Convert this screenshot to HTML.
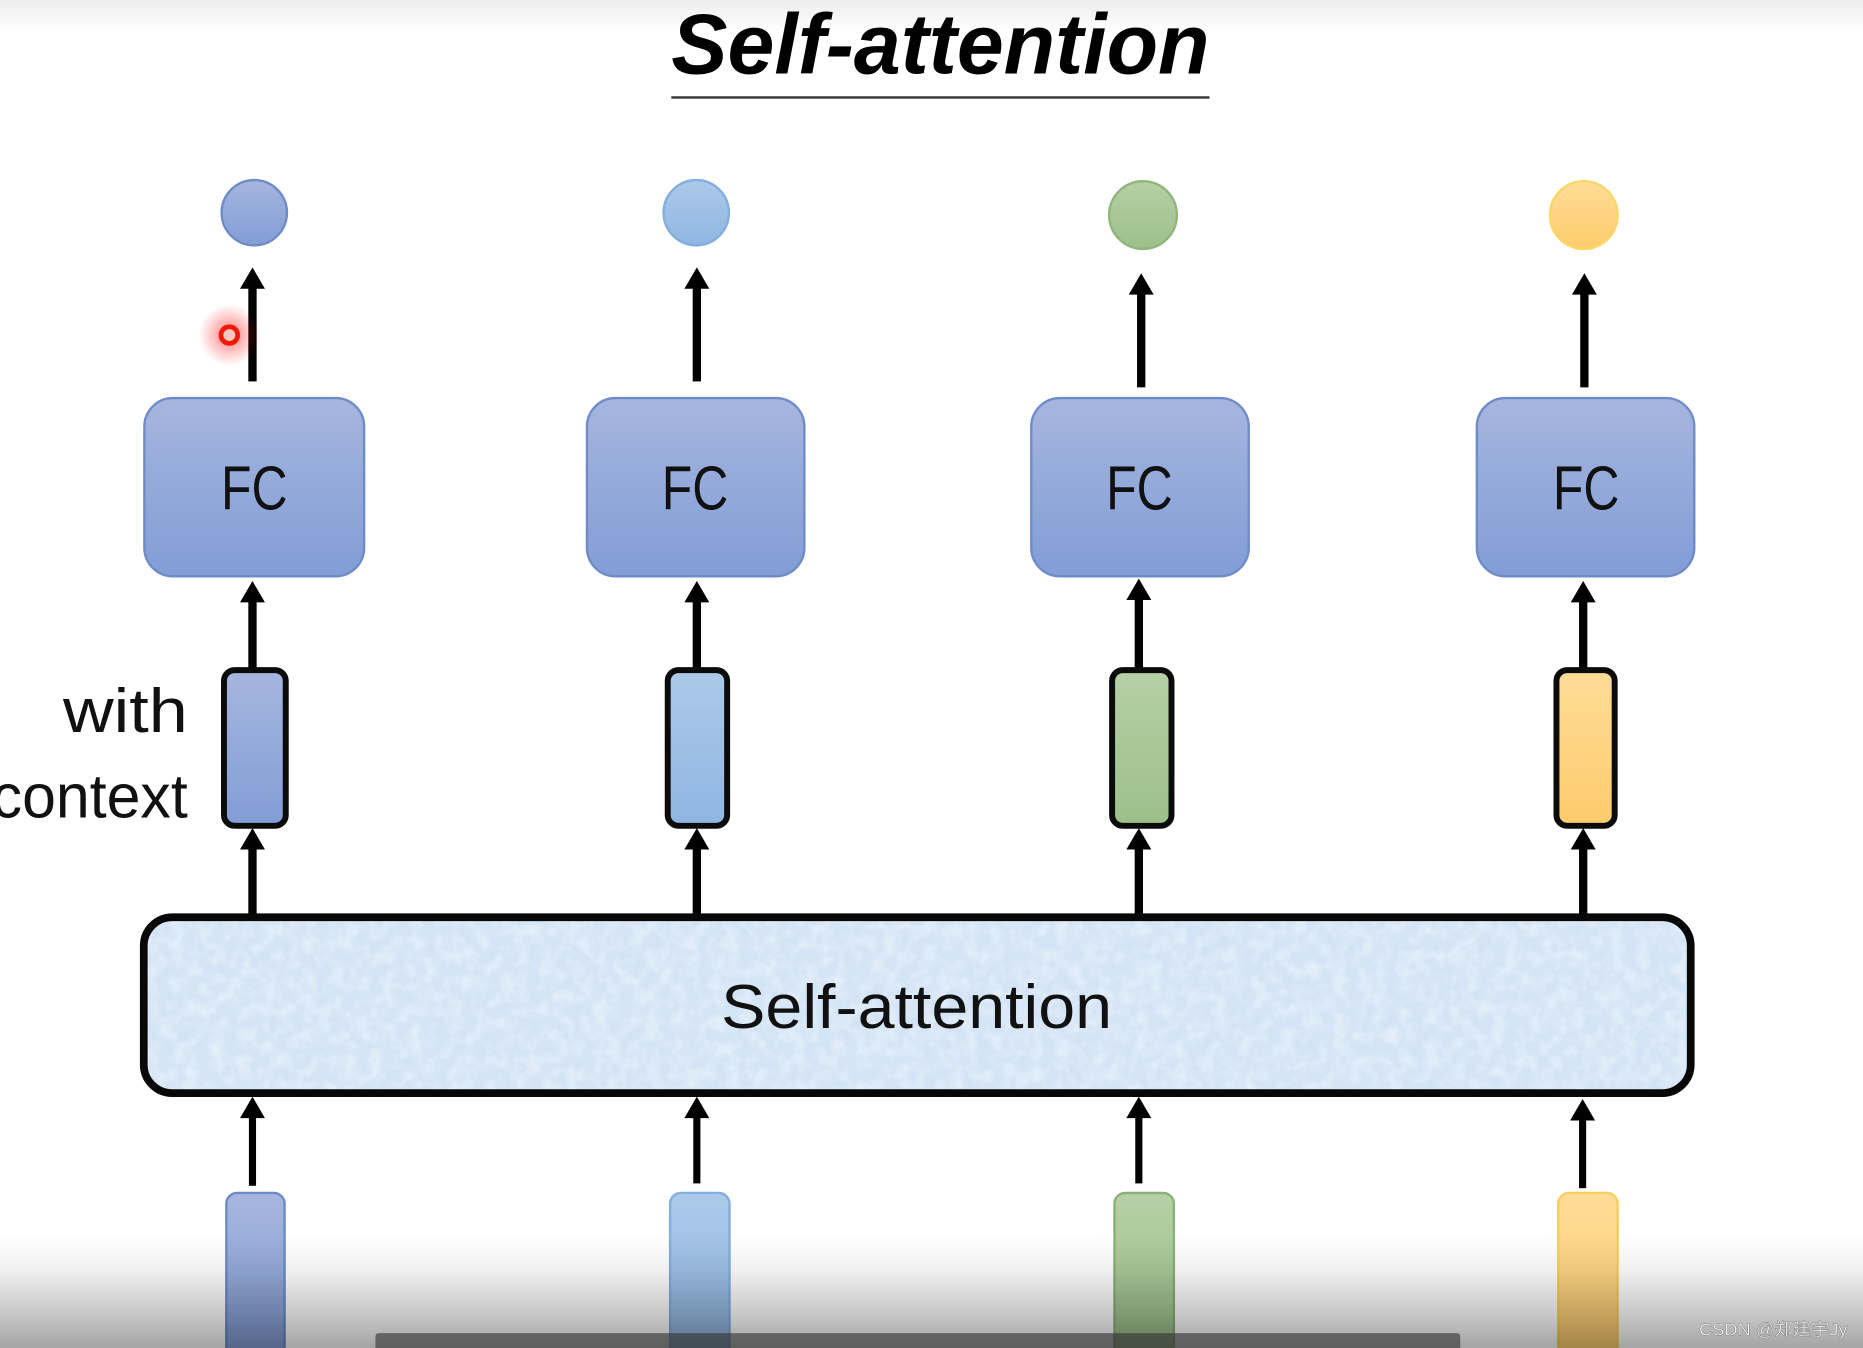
<!DOCTYPE html>
<html><head><meta charset="utf-8"><style>
html,body{margin:0;padding:0;background:#fff;width:1863px;height:1348px;overflow:hidden}
svg{display:block}
text{font-family:"Liberation Sans",sans-serif;fill:#111}
</style></head><body>
<svg xmlns="http://www.w3.org/2000/svg" width="1863" height="1348" viewBox="0 0 1568 1134.5">
<defs>
<linearGradient id="b" x1="0" y1="0" x2="0" y2="1"><stop offset="0" stop-color="#a6b6de"/><stop offset="1" stop-color="#829dd6"/></linearGradient>
<linearGradient id="l" x1="0" y1="0" x2="0" y2="1"><stop offset="0" stop-color="#acc9e9"/><stop offset="1" stop-color="#8fb6e2"/></linearGradient>
<linearGradient id="g" x1="0" y1="0" x2="0" y2="1"><stop offset="0" stop-color="#b5d0a5"/><stop offset="1" stop-color="#9cc08a"/></linearGradient>
<linearGradient id="y" x1="0" y1="0" x2="0" y2="1"><stop offset="0" stop-color="#ffdc98"/><stop offset="1" stop-color="#fdcb6c"/></linearGradient>
<linearGradient id="top" x1="0" y1="0" x2="0" y2="1"><stop offset="0" stop-color="#000" stop-opacity=".07"/><stop offset="1" stop-color="#000" stop-opacity="0"/></linearGradient>
<linearGradient id="bot" x1="0" y1="0" x2="0" y2="1"><stop offset="0" stop-color="#000" stop-opacity="0"/><stop offset=".3" stop-color="#000" stop-opacity=".06"/><stop offset=".65" stop-color="#000" stop-opacity=".2"/><stop offset="1" stop-color="#000" stop-opacity=".36"/></linearGradient>
<radialGradient id="red"><stop offset="0" stop-color="#f00" stop-opacity=".55"/><stop offset=".5" stop-color="#f00" stop-opacity=".25"/><stop offset="1" stop-color="#f00" stop-opacity="0"/></radialGradient>
<filter id="tex" x="0" y="0" width="100%" height="100%"><feTurbulence type="fractalNoise" baseFrequency=".09" numOctaves="3" seed="4"/><feColorMatrix values="0 0 0 0 1  0 0 0 0 1  0 0 0 0 1  1.6 0 0 0 -.55"/></filter>
<clipPath id="sa"><rect x="121" y="772" width="1302" height="148" rx="24"/></clipPath>
</defs>

<!-- title -->
<text x="565" y="62" font-size="72" font-weight="700" font-style="italic" textLength="453" lengthAdjust="spacingAndGlyphs" style="fill:#000">Self-attention</text>
<rect x="565" y="81" width="453" height="2" fill="#333"/>

<!-- output circles -->
<circle cx="214" cy="179" r="27.5" fill="url(#b)" stroke="#6f8cc6" stroke-width="2"/>
<circle cx="586" cy="179" r="27.5" fill="url(#l)" stroke="#84aedd" stroke-width="2"/>
<circle cx="962" cy="181" r="28.5" fill="url(#g)" stroke="#8fb67c" stroke-width="2"/>
<circle cx="1333" cy="181" r="28.5" fill="url(#y)" stroke="#fbd768" stroke-width="2"/>

<!-- arrows -->
<g fill="#000">
<rect x="209" y="240" width="7" height="81"/><path d="M212.500 225L223 243H202Z"/>
<rect x="583" y="240" width="7" height="81"/><path d="M586.500 225L597 243H576Z"/>
<rect x="957" y="245" width="7" height="81"/><path d="M960.500 230L971 248H950Z"/>
<rect x="1330" y="245" width="7" height="81"/><path d="M1333.500 230L1344 248H1323Z"/>
<rect x="209" y="505" width="7" height="60"/><path d="M212.500 489L223 507H202Z"/>
<rect x="583" y="505" width="7" height="60"/><path d="M586.500 489L597 507H576Z"/>
<rect x="955" y="503" width="7" height="62"/><path d="M958.500 487L969 505H948Z"/>
<rect x="1329" y="505" width="7" height="60"/><path d="M1332.500 489L1343 507H1322Z"/>
<rect x="209" y="712" width="7" height="60"/><path d="M212.500 697L223 715H202Z"/>
<rect x="583" y="712" width="7" height="60"/><path d="M586.500 697L597 715H576Z"/>
<rect x="955" y="712" width="7" height="60"/><path d="M958.500 697L969 715H948Z"/>
<rect x="1329" y="712" width="7" height="60"/><path d="M1332.500 697L1343 715H1322Z"/>
<rect x="209.500" y="938" width="6" height="60"/><path d="M212.500 923L223 941H202Z"/>
<rect x="583.500" y="938" width="6" height="58"/><path d="M586.500 923L597 941H576Z"/>
<rect x="955.500" y="938" width="6" height="58"/><path d="M958.500 923L969 941H948Z"/>
<rect x="1329" y="940" width="6" height="60"/><path d="M1332 925L1342.500 943H1321.500Z"/>
</g>

<!-- FC boxes -->
<g stroke="#6f8cc8" stroke-width="2" fill="url(#b)">
<rect x="121.500" y="335" width="185" height="150" rx="24"/>
<rect x="494" y="335" width="183" height="150" rx="24"/>
<rect x="868" y="335" width="183" height="150" rx="24"/>
<rect x="1243" y="335" width="183" height="150" rx="24"/>
</g>
<g font-size="52">
<text x="186" y="429" textLength="56" lengthAdjust="spacingAndGlyphs">FC</text>
<text x="557" y="429" textLength="56" lengthAdjust="spacingAndGlyphs">FC</text>
<text x="931" y="429" textLength="56" lengthAdjust="spacingAndGlyphs">FC</text>
<text x="1307" y="429" textLength="56" lengthAdjust="spacingAndGlyphs">FC</text>
</g>

<!-- context vectors -->
<g stroke="#0b0b0b" stroke-width="5">
<rect x="188.500" y="564" width="52" height="131" rx="9" fill="url(#b)"/>
<rect x="562" y="564" width="50" height="131" rx="9" fill="url(#l)"/>
<rect x="936" y="564" width="50" height="131" rx="9" fill="url(#g)"/>
<rect x="1310" y="564" width="49" height="131" rx="9" fill="url(#y)"/>
</g>

<text x="53" y="616" font-size="52" textLength="105" lengthAdjust="spacingAndGlyphs">with</text>
<text x="-7" y="688" font-size="52" textLength="165" lengthAdjust="spacingAndGlyphs">context</text>

<!-- self-attention block -->
<rect x="121" y="772" width="1302" height="148" rx="24" fill="#d3e4f6"/>
<g clip-path="url(#sa)"><rect x="121" y="772" width="1302" height="148" filter="url(#tex)" opacity=".5"/></g>
<rect x="121" y="772" width="1302" height="148" rx="24" fill="none" stroke="#080808" stroke-width="6.5"/>
<text x="607" y="865" font-size="52" textLength="329" lengthAdjust="spacingAndGlyphs">Self-attention</text>

<!-- inputs -->
<rect x="190.500" y="1004" width="49" height="140" rx="9" fill="url(#b)" stroke="#6c8ac6" stroke-width="2"/>
<rect x="564" y="1004" width="50" height="140" rx="9" fill="url(#l)" stroke="#84aedd" stroke-width="2"/>
<rect x="938" y="1004" width="50" height="140" rx="9" fill="url(#g)" stroke="#8ab078" stroke-width="2"/>
<rect x="1311.500" y="1004" width="50" height="140" rx="9" fill="url(#y)" stroke="#f6cf5e" stroke-width="2"/>

<!-- cursor -->
<circle cx="193" cy="282" r="26" fill="url(#red)"/>
<circle cx="193" cy="282" r="7" fill="#f8c8c0" stroke="#f01808" stroke-width="4"/>

<!-- video overlays -->
<rect x="0" y="0" width="1568" height="28" fill="url(#top)"/>
<rect x="0" y="1040" width="1568" height="95" fill="url(#bot)"/>
<path d="M316 1135V1125Q316 1122 319 1122H1226Q1229 1122 1229 1125V1135Z" fill="#333" fill-opacity=".62"/>
<text x="1430" y="1124" font-size="15" textLength="125" lengthAdjust="spacingAndGlyphs" style="fill:#fff;stroke:#777;stroke-width:.4;font-family:'Liberation Sans','Noto Sans CJK SC',sans-serif">CSDN @郑建宇Jy</text>
</svg>
</body></html>
